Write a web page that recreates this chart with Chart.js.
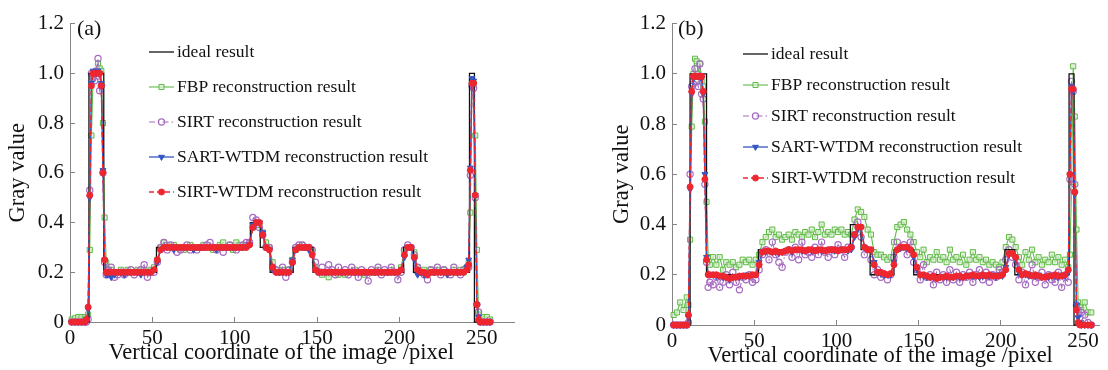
<!DOCTYPE html>
<html>
<head>
<meta charset="utf-8">
<script src="https://cdn.jsdelivr.net/npm/chart.js@4"></script>
<style>
  body { margin: 0; background: #fff; }
  #wrap { position: relative; width: 1108px; height: 370px; overflow: hidden; }
  canvas { position: absolute; top: 0; }
  #chartA { left: 0; }
  #chartB { left: 600px; }
</style>
</head>
<body>
<div id="wrap">
  <canvas id="chartA" width="520" height="370"></canvas>
  <canvas id="chartB" width="508" height="370"></canvas>
</div>
<script>
// sample positions (pixel index along the image column)
const xs = [
  1, 3, 5, 7, 9,
  10, 11, 12, 13, 14, 15, 16, 17, 18, 19, 20, 21, 22, 23,
  25, 27, 29, 31, 33, 35, 37, 39, 41, 43, 45, 47, 49, 51,
  53, 55, 57, 59, 61, 63, 65, 67, 69, 71, 73, 75, 77, 79,
  81, 83, 85, 87, 89, 91, 93, 95, 97, 99, 101, 103, 105, 107,
  109, 111, 113, 115, 117, 119, 121, 123, 125, 127, 129, 131, 133, 135,
  137, 139, 141, 143, 145, 147, 149, 151, 153, 155, 157, 159, 161, 163,
  165, 167, 169, 171, 173, 175, 177, 179, 181, 183, 185, 187, 189, 191,
  193, 195, 197, 199, 201, 203, 205, 207, 209, 211, 213, 215, 217, 219,
  221, 223, 225, 227, 229, 231, 233, 235, 237, 239, 241,
  242, 243, 244, 245, 246, 247, 248, 249,
  251, 253, 255
];

// ideal profile, as step breakpoints
const idealXA = [1, 11.5, 20.5, 52.5, 109.5, 115.5, 121.5, 135.5, 147.5, 202.5, 208.5, 242.5, 245.5, 256];
const idealYA = [0, 1, 0.2, 0.3, 0.4, 0.3, 0.2, 0.3, 0.2, 0.3, 0.2, 1, 0, 0];
const idealXB = [1, 11, 21, 52.5, 108.5, 115, 120.5, 135, 147, 202.5, 208.5, 241.5, 244.5, 256];
const idealYB = [0, 1, 0.2, 0.3, 0.4, 0.3, 0.2, 0.3, 0.2, 0.3, 0.2, 1, 0, 0];

// panel (a)
const fbpA = [
  0.01, 0.015, 0.02, 0.02, 0.02,
  0.02, 0.03, 0.29, 0.75, 0.98, 1.0, 1.01, 1.04, 1.02, 1.01, 0.8, 0.42, 0.24, 0.21,
  0.21, 0.2, 0.2, 0.21, 0.2, 0.21, 0.2, 0.2, 0.21, 0.2, 0.21, 0.2, 0.21, 0.22,
  0.25, 0.3, 0.32, 0.31, 0.3, 0.31, 0.3, 0.3, 0.29, 0.3, 0.31, 0.3, 0.3, 0.3,
  0.31, 0.3, 0.3, 0.29, 0.3, 0.31, 0.32, 0.3, 0.31, 0.29, 0.32, 0.31, 0.3, 0.31,
  0.32, 0.38, 0.4, 0.39, 0.36, 0.32, 0.3, 0.24, 0.21, 0.2, 0.21, 0.2, 0.21, 0.25,
  0.29, 0.3, 0.31, 0.3, 0.3, 0.28, 0.22, 0.2, 0.19, 0.2, 0.18, 0.2, 0.2, 0.19,
  0.2, 0.19, 0.2, 0.2, 0.21, 0.2, 0.2, 0.19, 0.2, 0.2, 0.2, 0.21, 0.2, 0.2,
  0.2, 0.21, 0.2, 0.2, 0.22, 0.29, 0.3, 0.3, 0.28, 0.22, 0.2, 0.21, 0.2, 0.21,
  0.2, 0.21, 0.2, 0.21, 0.2, 0.2, 0.21, 0.2, 0.21, 0.2, 0.22,
  0.24, 0.44, 0.97, 0.96, 0.75, 0.29, 0.03, 0.02,
  0.02, 0.02, 0.01
];
const sirtA = [
  0, 0, 0, 0, 0,
  0, 0.01, 0.53, 1.0, 0.98, 0.97, 1.01, 1.06, 0.93, 0.95, 0.6, 0.24, 0.19, 0.21,
  0.22, 0.18, 0.19, 0.2, 0.19, 0.2, 0.21, 0.19, 0.2, 0.21, 0.23, 0.18, 0.2, 0.2,
  0.24, 0.3, 0.32, 0.29, 0.31, 0.3, 0.28, 0.29, 0.3, 0.31, 0.29, 0.3, 0.29, 0.3,
  0.3, 0.31, 0.32, 0.3, 0.29, 0.3, 0.28, 0.3, 0.31, 0.3, 0.29, 0.3, 0.31, 0.32,
  0.32, 0.42, 0.41, 0.38, 0.35, 0.3, 0.3, 0.22, 0.21, 0.2, 0.22, 0.18, 0.21, 0.24,
  0.3, 0.31, 0.31, 0.3, 0.3, 0.29, 0.24, 0.2, 0.22, 0.2, 0.23, 0.21, 0.19, 0.22,
  0.2, 0.21, 0.19, 0.22, 0.2, 0.18, 0.21, 0.2, 0.165, 0.21, 0.2, 0.22, 0.19, 0.21,
  0.2, 0.22, 0.2, 0.17, 0.2, 0.29, 0.31, 0.3, 0.27, 0.22, 0.2, 0.19, 0.17, 0.21,
  0.2, 0.22, 0.19, 0.21, 0.2, 0.19, 0.22, 0.2, 0.19, 0.21, 0.22,
  0.22, 0.59, 0.95, 0.94, 0.5, 0.07, 0.04, 0,
  0, 0, 0
];
const sartA = [
  0, 0, 0, 0, 0,
  0.01, 0.05, 0.5, 0.96, 1.01, 1.0, 1.0, 1.01, 1.0, 0.96, 0.61, 0.25, 0.19, 0.19,
  0.18, 0.19, 0.2, 0.2, 0.19, 0.2, 0.2, 0.2, 0.2, 0.19, 0.2, 0.2, 0.2, 0.21,
  0.24, 0.29, 0.3, 0.3, 0.3, 0.29, 0.3, 0.3, 0.3, 0.3, 0.3, 0.29, 0.3, 0.3,
  0.3, 0.3, 0.3, 0.3, 0.29, 0.3, 0.3, 0.3, 0.3, 0.3, 0.3, 0.3, 0.3, 0.3,
  0.31, 0.39, 0.4, 0.4, 0.36, 0.3, 0.29, 0.21, 0.2, 0.2, 0.2, 0.2, 0.2, 0.25,
  0.29, 0.3, 0.3, 0.3, 0.29, 0.27, 0.21, 0.2, 0.2, 0.2, 0.2, 0.2, 0.2, 0.2,
  0.2, 0.2, 0.2, 0.2, 0.2, 0.2, 0.2, 0.2, 0.2, 0.2, 0.2, 0.2, 0.2, 0.2,
  0.2, 0.2, 0.2, 0.2, 0.21, 0.26, 0.3, 0.3, 0.25, 0.19, 0.2, 0.19, 0.19, 0.2,
  0.2, 0.2, 0.2, 0.2, 0.19, 0.2, 0.2, 0.2, 0.2, 0.2, 0.22,
  0.25, 0.62, 0.98, 0.97, 0.51, 0.07, 0.02, 0,
  0, 0, 0
];
const wtdmA = [
  0, 0, 0, 0, 0,
  0.01, 0.06, 0.51, 0.95, 1.0, 1.0, 1.0, 1.0, 1.0, 0.95, 0.6, 0.25, 0.2, 0.2,
  0.2, 0.2, 0.2, 0.2, 0.2, 0.2, 0.2, 0.2, 0.2, 0.2, 0.2, 0.2, 0.2, 0.21,
  0.25, 0.29, 0.3, 0.3, 0.3, 0.3, 0.3, 0.3, 0.3, 0.3, 0.3, 0.3, 0.3, 0.3,
  0.3, 0.3, 0.3, 0.3, 0.3, 0.3, 0.3, 0.3, 0.3, 0.3, 0.3, 0.3, 0.3, 0.3,
  0.31, 0.38, 0.4, 0.4, 0.35, 0.3, 0.29, 0.22, 0.2, 0.2, 0.2, 0.2, 0.2, 0.24,
  0.29, 0.3, 0.3, 0.3, 0.3, 0.27, 0.21, 0.2, 0.2, 0.2, 0.2, 0.2, 0.2, 0.2,
  0.2, 0.2, 0.2, 0.2, 0.2, 0.2, 0.2, 0.2, 0.2, 0.2, 0.2, 0.2, 0.2, 0.2,
  0.2, 0.2, 0.2, 0.2, 0.21, 0.27, 0.3, 0.3, 0.26, 0.21, 0.2, 0.2, 0.19, 0.2,
  0.2, 0.2, 0.2, 0.2, 0.2, 0.2, 0.2, 0.2, 0.2, 0.2, 0.21,
  0.23, 0.61, 0.96, 0.96, 0.51, 0.07, 0.01, 0,
  0, 0, 0
];

// panel (b)
const fbpB = [
  0.04, 0.05, 0.09, 0.06, 0.11,
  0.08, 0.34, 0.79, 1.0, 1.06, 1.05, 1.0, 1.04, 0.97, 0.95, 0.81, 0.49, 0.27, 0.24,
  0.27, 0.24, 0.27, 0.22, 0.25, 0.24, 0.25, 0.23, 0.24, 0.26, 0.25, 0.26, 0.24, 0.26,
  0.28, 0.33, 0.35, 0.37, 0.38, 0.35, 0.36, 0.34, 0.35, 0.36, 0.34, 0.37, 0.36, 0.35,
  0.37, 0.36, 0.38, 0.35, 0.37, 0.4, 0.36, 0.37, 0.36, 0.38, 0.37, 0.38, 0.36, 0.37,
  0.36, 0.42, 0.46, 0.45, 0.43, 0.38, 0.36, 0.29, 0.28, 0.28, 0.27, 0.26, 0.27, 0.33,
  0.39, 0.4, 0.41, 0.38, 0.36, 0.33, 0.29, 0.27, 0.3, 0.25, 0.27, 0.26, 0.29, 0.26,
  0.27, 0.25, 0.3, 0.26, 0.27, 0.25, 0.28, 0.24, 0.26, 0.29, 0.26, 0.27, 0.25, 0.26,
  0.24, 0.25, 0.24, 0.23, 0.25, 0.31, 0.35, 0.34, 0.31, 0.27, 0.24, 0.29, 0.26, 0.3,
  0.25, 0.27, 0.24, 0.26, 0.25, 0.28, 0.25, 0.27, 0.24, 0.26, 0.23,
  0.28, 0.55, 1.03, 0.83, 0.38, 0.09, 0.07, 0.06,
  0.09, 0.05, 0.05
];
const sirtB = [
  0, 0, 0, 0, 0,
  0.01, 0.6, 0.95, 0.96, 1.02, 0.97, 0.95, 1.04, 0.92, 0.9, 0.56, 0.25, 0.15, 0.17,
  0.16, 0.19, 0.15, 0.17, 0.2, 0.16, 0.21, 0.17, 0.14, 0.19, 0.18, 0.2, 0.17, 0.18,
  0.22, 0.28, 0.3, 0.26, 0.33, 0.28, 0.25, 0.23, 0.29, 0.3, 0.27, 0.31, 0.26, 0.33,
  0.28, 0.29, 0.27, 0.31, 0.28, 0.33, 0.29, 0.27, 0.3, 0.28, 0.32, 0.3, 0.27, 0.31,
  0.31, 0.36, 0.41, 0.35, 0.28, 0.3, 0.26, 0.2, 0.22, 0.19, 0.2, 0.18, 0.2, 0.27,
  0.33, 0.31, 0.32, 0.28, 0.33, 0.25, 0.22, 0.18, 0.24, 0.19, 0.2, 0.16, 0.21, 0.18,
  0.2, 0.17, 0.22, 0.18, 0.21, 0.17, 0.2, 0.19, 0.21, 0.17, 0.2, 0.22, 0.18, 0.21,
  0.17, 0.2, 0.19, 0.22, 0.21, 0.26, 0.3, 0.27, 0.24, 0.18, 0.21, 0.16, 0.2, 0.24,
  0.17, 0.19, 0.21, 0.16, 0.2, 0.18, 0.17, 0.21, 0.15, 0.19, 0.17,
  0.58, 0.97, 0.93, 0.56, 0.08, 0.06, 0.03, 0.05,
  0.04, 0.01, 0
];
const sartB = [
  0, 0, 0, 0, 0,
  0.03, 0.54, 0.92, 0.98, 0.99, 0.99, 0.99, 0.99, 0.98, 0.92, 0.6, 0.27, 0.2, 0.2,
  0.2, 0.195, 0.195, 0.19, 0.19, 0.18, 0.19, 0.195, 0.19, 0.195, 0.2, 0.195, 0.2, 0.2,
  0.25, 0.295, 0.29, 0.295, 0.29, 0.29, 0.285, 0.29, 0.295, 0.3, 0.29, 0.3, 0.3, 0.295,
  0.3, 0.3, 0.295, 0.3, 0.3, 0.295, 0.3, 0.3, 0.3, 0.295, 0.3, 0.3, 0.3, 0.295,
  0.3, 0.35, 0.38, 0.39, 0.31, 0.3, 0.3, 0.25, 0.21, 0.205, 0.2, 0.2, 0.2, 0.25,
  0.3, 0.305, 0.31, 0.305, 0.3, 0.27, 0.22, 0.2, 0.195, 0.19, 0.19, 0.19, 0.185, 0.19,
  0.195, 0.19, 0.19, 0.19, 0.195, 0.19, 0.19, 0.195, 0.2, 0.195, 0.195, 0.19, 0.195, 0.2,
  0.195, 0.2, 0.19, 0.2, 0.195, 0.23, 0.28, 0.285, 0.26, 0.21, 0.2, 0.2, 0.195, 0.2,
  0.195, 0.2, 0.19, 0.195, 0.19, 0.2, 0.195, 0.19, 0.2, 0.195, 0.21,
  0.6, 0.95, 0.93, 0.52, 0.08, 0.03, 0.01, 0,
  0, 0, 0
];
const wtdmB = [
  0, 0, 0, 0, 0,
  0.04, 0.55, 0.93, 0.99, 0.99, 0.99, 0.99, 0.99, 0.99, 0.93, 0.58, 0.26, 0.2, 0.2,
  0.2, 0.2, 0.195, 0.195, 0.19, 0.185, 0.19, 0.19, 0.195, 0.195, 0.195, 0.195, 0.2, 0.2,
  0.24, 0.29, 0.295, 0.295, 0.29, 0.295, 0.29, 0.29, 0.295, 0.3, 0.295, 0.3, 0.3, 0.3,
  0.295, 0.3, 0.3, 0.295, 0.3, 0.3, 0.295, 0.3, 0.3, 0.3, 0.295, 0.3, 0.3, 0.3,
  0.31, 0.36, 0.39, 0.39, 0.31, 0.3, 0.3, 0.24, 0.21, 0.21, 0.205, 0.2, 0.205, 0.24,
  0.3, 0.31, 0.31, 0.31, 0.3, 0.28, 0.23, 0.2, 0.2, 0.195, 0.19, 0.195, 0.185, 0.19,
  0.19, 0.195, 0.19, 0.19, 0.195, 0.195, 0.19, 0.195, 0.195, 0.2, 0.195, 0.195, 0.2, 0.195,
  0.2, 0.195, 0.195, 0.195, 0.2, 0.22, 0.285, 0.285, 0.27, 0.22, 0.2, 0.205, 0.2, 0.195,
  0.2, 0.195, 0.19, 0.19, 0.195, 0.195, 0.2, 0.195, 0.195, 0.2, 0.22,
  0.6, 0.94, 0.94, 0.53, 0.06, 0.01, 0, 0,
  0, 0, 0
];

const seriesNames = ['ideal result', 'FBP reconstruction result', 'SIRT reconstruction result',
  'SART-WTDM reconstruction result', 'SIRT-WTDM reconstruction result'];
const yTicks = [0, 0.2, 0.4, 0.6, 0.8, 1.0, 1.2];

[fbpA, sirtA, sartA, wtdmA, fbpB, sirtB, sartB, wtdmB].forEach((arr, i) => {
  if (arr.length !== xs.length) throw new Error('series ' + i + ' has ' + arr.length + ' values, expected ' + xs.length);
});

const serif = 'Liberation Serif, Times New Roman, serif';
const axisGray = '#858585';
const textColor = '#111';

function pts(xArr, yArr) {
  return xArr.map((x, i) => ({ x: x, y: yArr[i] }));
}

function makeDatasets(ix, iy, fbp, sirt, sart, wtdm) {
  return [
    { label: seriesNames[0], data: pts(ix, iy), stepped: true, borderColor: '#111', borderWidth: 1.3,
      pointRadius: 0, order: 2 },
    { label: seriesNames[1], data: pts(xs, fbp), borderColor: '#5fba47', borderWidth: 1.1,
      pointStyle: 'rect', pointRadius: 3.6, pointBorderWidth: 1, pointBorderColor: '#5fba47',
      pointBackgroundColor: 'rgba(220,240,210,0.7)', order: 4 },
    { label: seriesNames[2], data: pts(xs, sirt), borderColor: '#a56bc1', borderWidth: 1.1,
      borderDash: [6, 3, 1.5, 3], pointStyle: 'circle', pointRadius: 3.1, pointBorderWidth: 1.2,
      pointBorderColor: '#a56bc1', pointBackgroundColor: 'rgba(255,255,255,0)', order: 3 },
    { label: seriesNames[3], data: pts(xs, sart), borderColor: '#3556c4', borderWidth: 1.3,
      pointStyle: 'triangle', pointRotation: 180, pointRadius: 3.4, pointBorderWidth: 1,
      pointBorderColor: '#3556c4', pointBackgroundColor: '#3556c4', order: 1 },
    { label: seriesNames[4], data: pts(xs, wtdm), borderColor: '#ee2630', borderWidth: 1.5,
      borderDash: [5, 3], pointStyle: 'circle', pointRadius: 3, pointBorderWidth: 1,
      pointBorderColor: '#ee2630', pointBackgroundColor: '#ee2630', order: 0 }
  ];
}

// legend and panel letter drawn inside the plot
const panelDecor = {
  id: 'panelDecor',
  afterDatasetsDraw(chart, args, opts) {
    const ctx = chart.ctx;
    ctx.save();
    ctx.textBaseline = 'middle';
    ctx.textAlign = 'left';
    ctx.fillStyle = textColor;
    ctx.font = '22px ' + serif;
    ctx.fillText(opts.label, opts.labelX, opts.labelY);
    ctx.font = '17.5px ' + serif;
    chart.data.datasets.forEach((ds, i) => {
      const y = opts.legendY + i * opts.legendGap;
      const x0 = opts.legendX;
      ctx.strokeStyle = ds.borderColor;
      ctx.lineWidth = ds.borderWidth;
      ctx.setLineDash(ds.borderDash || []);
      ctx.beginPath();
      ctx.moveTo(x0, y);
      ctx.lineTo(x0 + 25, y);
      ctx.stroke();
      ctx.setLineDash([]);
      if (ds.pointRadius > 0) {
        ctx.fillStyle = ds.pointBackgroundColor;
        ctx.strokeStyle = ds.pointBorderColor;
        ctx.lineWidth = ds.pointBorderWidth;
        Chart.helpers.drawPoint(ctx, {
          pointStyle: ds.pointStyle, rotation: ds.pointRotation || 0,
          radius: ds.pointRadius, borderWidth: ds.pointBorderWidth
        }, x0 + 12.5, y);
      }
      ctx.fillStyle = textColor;
      ctx.fillText(ds.label, x0 + 28, y);
    });
    ctx.restore();
  }
};

function makeChart(id, datasets, cfg) {
  return new Chart(document.getElementById(id), {
    type: 'line',
    data: { datasets: datasets },
    options: {
      responsive: false,
      animation: false,
      events: [],
      layout: { padding: { left: 0, top: cfg.top, right: cfg.right, bottom: 0 } },
      datasets: { line: { clip: false, fill: false, tension: 0 } },
      scales: {
        x: {
          type: 'linear', min: 0, max: cfg.xMax,
          afterFit: (s) => { s.height = cfg.xHeight; },
          border: { color: axisGray, width: 1 },
          grid: { drawOnChartArea: false, drawTicks: true, tickLength: -5, color: axisGray },
          ticks: { stepSize: 50, includeBounds: false, padding: 9, maxRotation: 0,
            color: textColor, font: { family: serif, size: 21 } },
          // trailing spaces nudge the centred title left, as in the original figure
          title: { display: true, text: 'Vertical coordinate of the image /pixel' + cfg.xTitleNudge,
            color: textColor, font: { family: serif, size: 22.5 },
            padding: { top: 0, bottom: cfg.xTitlePad } }
        },
        y: {
          min: 0, max: 1.2,
          afterFit: (s) => { s.width = cfg.yWidth; },
          afterBuildTicks: (s) => { s.ticks = yTicks.map(v => ({ value: v })); },
          border: { color: axisGray, width: 1 },
          grid: { drawOnChartArea: false, drawTicks: true, tickLength: -5, color: axisGray },
          ticks: { padding: 11, color: textColor, font: { family: serif, size: 21 },
            callback: (v) => v === 0 ? '0' : v.toFixed(1) },
          title: { display: true, text: 'Gray value', color: textColor,
            font: { family: serif, size: 22.5 }, padding: { top: cfg.yTitlePad, bottom: 0 } }
        }
      },
      plugins: {
        legend: { display: false },
        tooltip: { enabled: false },
        panelDecor: cfg.decor
      }
    },
    plugins: [panelDecor]
  });
}

makeChart('chartA', makeDatasets(idealXA, idealYA, fbpA, sirtA, sartA, wtdmA), {
  top: 22, right: 4, xMax: 270, xHeight: 48, yWidth: 70, xTitlePad: 3, yTitlePad: 5,
  xTitleNudge: '    ',
  decor: { label: '(a)', labelX: 77, labelY: 29, legendX: 149, legendY: 52, legendGap: 35 }
});

makeChart('chartB', makeDatasets(idealXB, idealYB, fbpB, sirtB, sartB, wtdmB), {
  top: 23, right: 3, xMax: 260, xHeight: 45, yWidth: 72, xTitlePad: 0, yTitlePad: 9,
  xTitleNudge: '  ',
  decor: { label: '(b)', labelX: 78, labelY: 29, legendX: 143, legendY: 54, legendGap: 31 }
});
</script>
</body>
</html>
